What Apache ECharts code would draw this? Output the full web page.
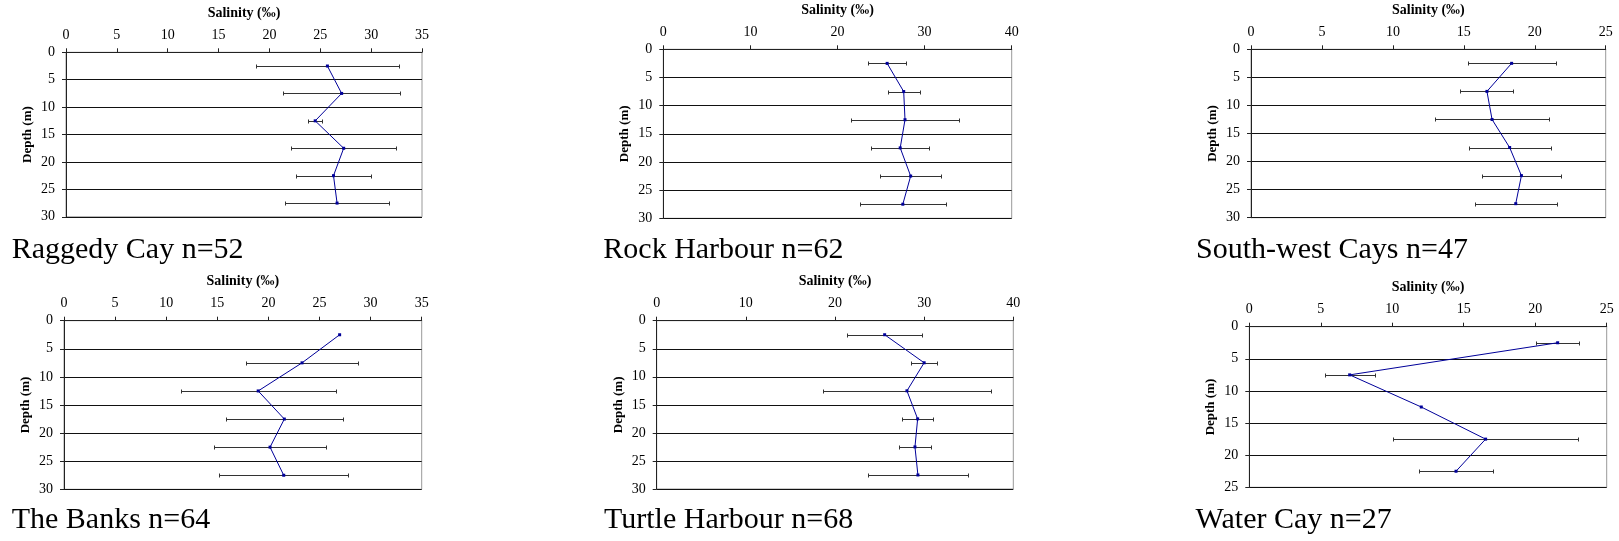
<!DOCTYPE html>
<html>
<head>
<meta charset="utf-8">
<script src="https://cdn.jsdelivr.net/npm/echarts@6/dist/echarts.min.js"></script>
<style>
html,body{margin:0;padding:0;background:#fff;}
#c{width:1619px;height:541px;}
</style>
</head>
<body>
<div id="c"></div>
<script>
// ---- data ----
const siteNames = ['Raggedy Cay n=52', 'Rock Harbour n=62', 'South-west Cays n=47',
                   'The Banks n=64', 'Turtle Harbour n=68', 'Water Cay n=27'];
const depths = [2.5, 7.5, 12.5, 17.5, 22.5, 27.5];
const depthsWaterCay = [2.5, 7.5, 12.5, 17.5, 22.5];

const raggedyMean = [25.7, 27.1, 24.5, 27.3, 26.3, 26.65];
const raggedyErr  = [7.05, 5.75, 0.7, 5.15, 3.65, 5.1];
const rockMean    = [25.7, 27.6, 27.75, 27.2, 28.4, 27.5];
const rockErr     = [2.2, 1.85, 6.15, 3.3, 3.5, 4.9];
const swMean      = [18.37, 16.63, 16.99, 18.23, 19.06, 18.66];
const swErr       = [3.1, 1.87, 4.0, 2.9, 2.76, 2.9];
const banksMean   = [26.97, 23.29, 19.0, 21.56, 20.16, 21.5];
const banksErr    = [null, 5.45, 7.6, 5.7, 5.45, 6.3];
const turtleMean  = [25.57, 30.0, 28.07, 29.27, 28.97, 29.3];
const turtleErr   = [4.22, 1.45, 9.4, 1.75, 1.75, 5.6];
const waterMean   = [21.57, 7.02, 12.03, 16.53, 14.46];
const waterErr    = [1.5, 1.75, null, 6.45, 2.58];

const xMaxes     = [35, 40, 25, 35, 40, 25];
const xIntervals = [5, 10, 5, 5, 10, 5];
const yMaxes     = [30, 30, 30, 30, 30, 25];
const xAxisTitle = 'Salinity (‰)';
const yAxisTitle = 'Depth (m)';

const meansList = [raggedyMean, rockMean, swMean, banksMean, turtleMean, waterMean];
const errsList  = [raggedyErr, rockErr, swErr, banksErr, turtleErr, waterErr];
const depthList = [depths, depths, depths, depths, depths, depthsWaterCay];

// ---- layout ----
const grids = [
  {left: 66,    top: 52.3,  width: 356,   height: 164.5},
  {left: 663.3, top: 49.3,  width: 348.4, height: 169},
  {left: 1251,  top: 49.3,  width: 354.7, height: 168.4},
  {left: 64,    top: 320.7, width: 357.7, height: 168.6},
  {left: 656.7, top: 320.7, width: 356.6, height: 168.3},
  {left: 1249.3,top: 326.7, width: 357.4, height: 160.6}
];
const captionPos = [[11.7, 260], [603.3, 260], [1196, 260], [11.7, 530], [604, 530], [1195.6, 530]];

const serif = '"Liberation Serif", "Times New Roman", serif';

const option = {
  backgroundColor: '#fff',
  animation: false,
  grid: grids.map(g => Object.assign({show: true, borderColor: '#999', borderWidth: 1, backgroundColor: 'transparent'}, g)),
  xAxis: grids.map((g, i) => ({
    type: 'value', gridIndex: i, position: 'top', min: 0, max: xMaxes[i], interval: xIntervals[i],
    name: xAxisTitle, nameLocation: 'middle', nameGap: 32,
    nameTextStyle: {fontFamily: serif, fontWeight: 'bold', fontSize: 14, color: '#000'},
    axisLine: {show: true, lineStyle: {color: '#222', width: 1}},
    axisTick: {show: true, inside: false, length: 4, lineStyle: {color: '#222'}},
    axisLabel: {fontFamily: serif, fontSize: 14, color: '#000', margin: 10},
    splitLine: {show: false}
  })),
  yAxis: grids.map((g, i) => ({
    type: 'value', gridIndex: i, inverse: true, min: 0, max: yMaxes[i], interval: 5,
    name: yAxisTitle, nameLocation: 'middle', nameGap: 32, nameRotate: 90,
    nameTextStyle: {fontFamily: serif, fontWeight: 'bold', fontSize: 13, color: '#000'},
    axisLine: {show: true, lineStyle: {color: '#222', width: 1}},
    axisTick: {show: true, inside: false, length: 4, lineStyle: {color: '#222'}},
    axisLabel: {fontFamily: serif, fontSize: 14, color: '#000', margin: 11},
    splitLine: {show: true, lineStyle: {color: '#111', width: 1}}
  })),
  series: [],
  graphic: siteNames.map((t, i) => ({
    type: 'text', left: captionPos[i][0], top: captionPos[i][1] - 25,
    style: {text: t, font: '30px ' + serif, fill: '#000'}
  }))
};

for (let i = 0; i < 6; i++) {
  const m = meansList[i], e = errsList[i], d = depthList[i];
  const errData = [];
  for (let k = 0; k < m.length; k++) {
    if (e[k] != null) errData.push([m[k] - e[k], m[k] + e[k], d[k]]);
  }
  option.series.push({
    type: 'custom', xAxisIndex: i, yAxisIndex: i, z: 2,
    encode: {x: [0, 1], y: 2},
    data: errData,
    renderItem: function (params, api) {
      const lo = api.coord([api.value(0), api.value(2)]);
      const hi = api.coord([api.value(1), api.value(2)]);
      const y = Math.round(lo[1]) + 0.5;
      const x1 = Math.round(lo[0]) + 0.5, x2 = Math.round(hi[0]) + 0.5;
      const st = {stroke: '#333', lineWidth: 1};
      return {type: 'group', children: [
        {type: 'line', shape: {x1: x1, y1: y, x2: x2, y2: y}, style: st},
        {type: 'line', shape: {x1: x1, y1: y - 2, x2: x1, y2: y + 2}, style: st},
        {type: 'line', shape: {x1: x2, y1: y - 2, x2: x2, y2: y + 2}, style: st}
      ]};
    }
  });
  option.series.push({
    type: 'line', xAxisIndex: i, yAxisIndex: i, z: 3,
    data: m.map((v, k) => [v, d[k]]),
    symbol: 'rect', symbolSize: 3, showSymbol: true,
    lineStyle: {color: '#000099', width: 1},
    itemStyle: {color: '#000099'}
  });
}

const chart = echarts.init(document.getElementById('c'), null, {renderer: 'canvas'});
chart.setOption(option);
</script>
</body>
</html>
